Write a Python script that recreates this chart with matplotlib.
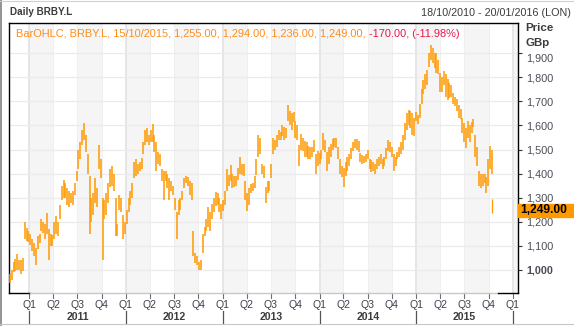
import matplotlib
matplotlib.use('Agg')
import matplotlib.pyplot as plt
import matplotlib.dates as mdates
from matplotlib.patches import Rectangle
from matplotlib.lines import Line2D
import pandas as pd

plt.rcParams['font.family'] = ['Liberation Sans', 'DejaVu Sans']

# ---------------- data (weekly high/low) ----------------
symbol = 'BRBY.L'
first_week = '2010-10-18'
week_lows = [
    945, 960, 990, 995, 1000, 1000, 985, 995, 1130, 1120,
    1115, 1105, 1080, 1060, 1020, 1085, 1110, 1160, 1155, 1130,
    1150, 1040, 1100, 1100, 1130, 1150, 1140, 1210, 1290, 1300,
    1300, 1270, 1260, 1280, 1270, 1310, 1370, 1420, 1460, 1520,
    1540, 1490, 1400, 1150, 1200, 1230, 1280, 1260, 1420, 1380,
    1040, 1210, 1230, 1280, 1345, 1350, 1330, 1140, 1140, 1250,
    1240, 1130, 1150, 1190, 1240, 1270, 1300, 1380, 1390, 1400,
    1410, 1420, 1480, 1520, 1530, 1520, 1530, 1530, 1490, 1410,
    1440, 1430, 1370, 1290, 1370, 1340, 1290, 1330, 1310, 1250,
    1130, 1230, 1250, 1290, 1340, 1360, 1350, 1310, 1290, 1060,
    1030, 1020, 1000, 1000, 1070, 1140, 1160, 1180, 1160, 1210,
    1240, 1265, 1270, 1240, 1210, 1245, 1270, 1330, 1350, 1370,
    1340, 1345, 1350, 1375, 1400, 1395, 1390, 1290, 1245, 1270,
    1320, 1330, 1340, 1395, 1470, 1480, 1400, 1380, 1280, 1320,
    1330, 1380, 1480, 1500, 1510, 1540, 1540, 1555, 1540, 1550,
    1620, 1600, 1580, 1615, 1550, 1540, 1430, 1500, 1495, 1470,
    1470, 1460, 1460, 1470, 1490, 1400, 1430, 1440, 1460, 1500,
    1490, 1410, 1440, 1470, 1500, 1510, 1505, 1460, 1400, 1385,
    1345, 1390, 1410, 1430, 1460, 1495, 1505, 1500, 1490, 1450,
    1440, 1445, 1450, 1460, 1420, 1405, 1410, 1400, 1420, 1430,
    1440, 1420, 1430, 1460, 1495, 1490, 1470, 1410, 1430, 1460,
    1470, 1480, 1500, 1540, 1580, 1600, 1590, 1560, 1555, 1620,
    1605, 1630, 1690, 1730, 1750, 1770, 1845, 1870, 1860, 1840,
    1820, 1815, 1740, 1740, 1770, 1720, 1705, 1715, 1720, 1690,
    1680, 1660, 1630, 1625, 1570, 1530, 1505, 1550, 1530, 1570,
    1595, 1470, 1430, 1350, 1340, 1350, 1360, 1320, 1350, 1420,
    1400,
]
week_highs = [
    985, 1000, 1035, 1045, 1065, 1040, 1040, 1050, 1200, 1175,
    1160, 1150, 1130, 1110, 1090, 1140, 1150, 1210, 1200, 1190,
    1235, 1170, 1150, 1145, 1200, 1225, 1200, 1270, 1350, 1375,
    1360, 1340, 1330, 1320, 1330, 1360, 1410, 1500, 1530, 1580,
    1610, 1560, 1480, 1390, 1300, 1320, 1380, 1340, 1520, 1460,
    1300, 1290, 1320, 1360, 1420, 1430, 1400, 1300, 1190, 1310,
    1300, 1230, 1200, 1250, 1300, 1330, 1360, 1450, 1460, 1440,
    1450, 1465, 1530, 1580, 1590, 1560, 1580, 1605, 1560, 1530,
    1490, 1480, 1420, 1410, 1410, 1400, 1380, 1370, 1350, 1300,
    1240, 1290, 1300, 1330, 1380, 1390, 1385, 1370, 1360, 1160,
    1070, 1060, 1035, 1040, 1150, 1180, 1210, 1260, 1240, 1275,
    1300, 1325, 1320, 1300, 1275, 1290, 1330, 1420, 1395, 1435,
    1400, 1390, 1390, 1425, 1470, 1440, 1440, 1370, 1320, 1340,
    1355, 1360, 1390, 1460, 1560, 1550, 1440, 1430, 1345, 1370,
    1370, 1440, 1550, 1540, 1560, 1580, 1575, 1600, 1595, 1590,
    1685, 1660, 1650, 1655, 1620, 1600, 1520, 1565, 1550, 1535,
    1530, 1515, 1510, 1510, 1540, 1480, 1495, 1485, 1500, 1570,
    1540, 1490, 1510, 1525, 1545, 1550, 1550, 1510, 1460, 1430,
    1425, 1450, 1470, 1480, 1505, 1530, 1545, 1545, 1535, 1485,
    1476, 1475, 1480, 1497, 1460, 1455, 1450, 1440, 1460, 1470,
    1480, 1460, 1470, 1505, 1540, 1530, 1510, 1480, 1470, 1490,
    1510, 1530, 1560, 1610, 1650, 1665, 1660, 1650, 1630, 1655,
    1645, 1690, 1750, 1790, 1815, 1830, 1900, 1935, 1920, 1900,
    1900, 1870, 1820, 1800, 1825, 1815, 1795, 1775, 1770, 1735,
    1720, 1710, 1685, 1670, 1630, 1610, 1590, 1620, 1600, 1615,
    1625, 1560, 1510, 1410, 1400, 1400, 1400, 1385, 1460, 1515,
    1500,
]
# last daily bar (shown in the legend line)
last_date = '2015-10-15'
last_open, last_high, last_low, last_close = 1255.0, 1294.0, 1236.0, 1249.0
prev_close = 1419.0

y_ticks = [1000, 1100, 1200, 1300, 1400, 1500, 1600, 1700, 1800, 1900]
range_start, range_end = '2010-10-18', '2016-01-20'
years = [2011, 2012, 2013, 2014, 2015]
quarter_names = ['Q1', 'Q2', 'Q3', 'Q4']

# ---------------- figure ----------------
W, H = 574, 326
fig = plt.figure(figsize=(W / 100, H / 100), dpi=100)
fig.patch.set_facecolor('white')
L, R, T, B = 9.3, 518.0, 22.7, 293.3
ax = fig.add_axes([L / W, 1 - B / H, (R - L) / W, (B - T) / H])
ax.set_facecolor('white')

d2n = lambda s: mdates.date2num(pd.Timestamp(s))
ax.set_xlim(d2n(range_start), d2n(range_end))
ax.set_ylim(903, 2027)

# quarter bands and vertical grid
for yr in range(2010, 2017):
    for q in range(4):
        s = pd.Timestamp(yr, 3 * q + 1, 1)
        e = s + pd.DateOffset(months=3)
        if q in (0, 2):
            ax.axvspan(mdates.date2num(s), mdates.date2num(e), color='#f5f5f5', lw=0, zorder=0)
        ax.axvline(mdates.date2num(s), color='#e4e4e4' if q == 0 else '#efefef',
                   lw=1.3 if q == 0 else 0.7, zorder=0.5)
for v in y_ticks:
    ax.axhline(v, color='#ebebeb', lw=0.9, zorder=0.6)

# price bars
centers = pd.date_range(first_week, periods=len(week_lows), freq='7D') + pd.Timedelta(days=2)
ax.vlines(mdates.date2num(centers), week_lows, week_highs, color='#ff9900', lw=1.1, zorder=3)
ax.vlines([d2n(last_date)], [last_low], [last_high], color='#ff9900', lw=0.9, zorder=3)

# spines
for side in ('left', 'top', 'right'):
    ax.spines[side].set_color('black')
    ax.spines[side].set_linewidth(1.0)
ax.spines['bottom'].set_visible(False)
xb = 0.9607
ax.plot([0, 0.0405], [0, 0], transform=ax.transAxes, color='black', lw=1.0, clip_on=False, zorder=5)
ax.plot([0.0405, xb], [0, 0], transform=ax.transAxes, color='#c8c8c8', lw=1.0, clip_on=False, zorder=5)
ax.plot([xb, 1], [0, 0], transform=ax.transAxes, color='black', lw=1.0, clip_on=False, zorder=5)

# y axis on the right
ax.yaxis.tick_right()
ax.set_yticks(y_ticks)
ax.set_yticklabels([f'{v:,}' for v in y_ticks])
ax.tick_params(axis='y', length=3.0, width=0.8, color='#333333', pad=3.0,
               labelsize=7.8, labelcolor='#4a4e58')
for lab in ax.get_yticklabels():
    if lab.get_text() == '1,000':
        lab.set_fontweight('bold')
    if lab.get_text() == '1,900':
        lab.set_verticalalignment('top')
ax.set_xticks([])

# x axis quarter / year labels (drawn manually)
xt = ax.get_xaxis_transform()
AH = B - T
def ay(px):
    return -(px - B) / AH
for yr in years + [2016]:
    for q in range(4):
        if yr == 2016 and q > 0:
            break
        d = mdates.date2num(pd.Timestamp(yr, 3 * q + 1, 1))
        ax.plot([d, d], [0, ay(297.5)], transform=xt, color='#707070', lw=0.8, clip_on=False)
        ax.text(d, ay(304.5), quarter_names[q], transform=xt, ha='center', va='center',
                fontsize=7.6, color='#3a4250')
    d = mdates.date2num(pd.Timestamp(yr, 1, 1))
    ax.plot([d, d], [ay(311), ay(323)], transform=xt, color='#555555', lw=0.9, clip_on=False)
for yr in years:
    a = mdates.date2num(pd.Timestamp(yr, 1, 1))
    b = mdates.date2num(pd.Timestamp(yr + 1, 1, 1))
    ax.text((a + b) / 2, ay(316.5), str(yr), transform=xt, ha='center', va='center',
            fontsize=7.6, fontweight='bold', color='#3c3c3c')

# ---------------- texts ----------------
renderer = fig.canvas.get_renderer()
def fit(t, target):
    w = t.get_window_extent(renderer).width
    t.set_fontsize(t.get_fontsize() * target / w)

def ftext(x, y, s, **kw):
    return fig.text(x / W, 1 - y / H, s, **kw)

t1 = ftext(10, 12, f'Daily {symbol}', fontsize=8, fontweight='bold', color='#3c3c3c', va='center')
fit(t1, 62)
t2 = ftext(571, 13, f'{pd.Timestamp(range_start):%d/%m/%Y} - {pd.Timestamp(range_end):%d/%m/%Y} (LON)',
           fontsize=8, color='#3c3c3c', va='center', ha='right')
fit(t2, 151)

fmt = lambda v: f'{v:,.2f}'
change = last_close - prev_close
pct = change / prev_close * 100
leg_a = (f'BarOHLC, {symbol}, {pd.Timestamp(last_date):%d/%m/%Y}, {fmt(last_open)}, '
         f'{fmt(last_high)}, {fmt(last_low)}, {fmt(last_close)},')
leg_b = f'{fmt(change)}, ({pct:.2f}%)'
ta = ftext(16.5, 33.7, leg_a, fontsize=8, color='#ff8c1a', va='center')
fit(ta, 352)
fs = ta.get_fontsize()
wa = ta.get_window_extent(renderer)
tb = ftext(wa.x1 + fs * 0.3 * 100 / 72, 33.7, leg_b, fontsize=fs, color='#e8174a', va='center')
tb.set_x((wa.x1 + fs * 0.3 * 100 / 72) / W)

p1 = ftext(525, 28, 'Price', fontsize=8, fontweight='bold', color='#3c3c3c', va='center')
fit(p1, 28)
p2 = ftext(525, 43, 'GBp', fontsize=p1.get_fontsize(), fontweight='bold', color='#3c3c3c', va='center')

# last price box on the right axis
yc = ax.transData.transform((0, last_close))[1]  # display pixels from bottom
box_h = 13.0
fig.patches.append(Rectangle((R / W, (yc - box_h / 2) / H), (W - R) / W, box_h / H,
                             transform=fig.transFigure, color='#ff9900', zorder=10))
bx = fig.text(520 / W, yc / H, fmt(last_close), fontsize=8, fontweight='bold',
              color='black', va='center', zorder=11)
fit(bx, 47)

# outer frame
fig.add_artist(Line2D([0.5 / W, 0.5 / W], [0, 1], transform=fig.transFigure, color='#808080', lw=1.2))
fig.add_artist(Line2D([0, 1], [1 - 0.5 / H, 1 - 0.5 / H], transform=fig.transFigure, color='#d0d0d0', lw=0.8))
fig.add_artist(Line2D([0, 1], [1 - 323.5 / H, 1 - 323.5 / H], transform=fig.transFigure, color='#c8c8c8', lw=0.8))

fig.savefig('out.png', dpi=100, facecolor='white')
